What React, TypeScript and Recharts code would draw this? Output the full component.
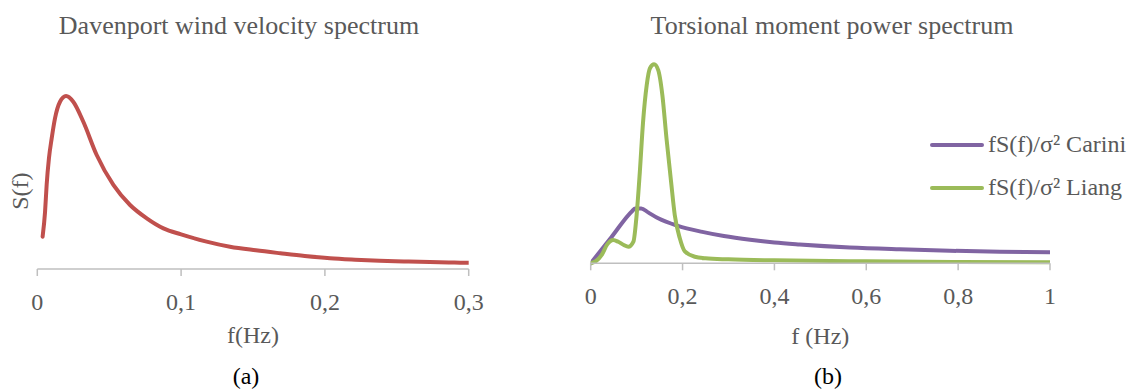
import React from 'react'
import { Label, Legend, Line, LineChart, XAxis, YAxis } from 'recharts'

const serif = "'Liberation Serif', 'Times New Roman', serif"
const grey = '#595959'
const axisGrey = '#bfbfbf'

// (a) Davenport spectrum, S(f) normalised so the peak is 1
const davenportF = [
  0.0037, 0.0054, 0.0065, 0.0081, 0.01, 0.0123, 0.0158, 0.02, 0.025, 0.032,
  0.0413, 0.0529, 0.0645, 0.0761, 0.0877, 0.1, 0.117, 0.134, 0.152, 0.169,
  0.186, 0.2035, 0.221, 0.238, 0.255, 0.273, 0.29, 0.3,
]
const davenportS = [
  0.187, 0.331, 0.486, 0.64, 0.755, 0.871, 0.967, 1.0, 0.967, 0.851,
  0.659, 0.486, 0.37, 0.293, 0.235, 0.2, 0.16, 0.129, 0.108, 0.091,
  0.075, 0.062, 0.054, 0.048, 0.044, 0.04, 0.037, 0.036,
]

// (b) torsional moment spectra, normalised to the Liang peak
const cariniF = [
  0, 0.045, 0.09, 0.097, 0.11, 0.125, 0.147, 0.19, 0.243, 0.29, 0.347, 0.4,
  0.455, 0.564, 0.673, 0.782, 0.891, 1,
]
const cariniS = [
  0, 0.131, 0.262, 0.276, 0.276, 0.256, 0.226, 0.188, 0.158, 0.137, 0.118,
  0.104, 0.094, 0.079, 0.07, 0.063, 0.058, 0.055,
]
const liangF = [
  0, 0.012, 0.024, 0.036, 0.049, 0.06, 0.072, 0.082, 0.093, 0.1, 0.107, 0.114,
  0.122, 0.129, 0.138, 0.147, 0.156, 0.165, 0.175, 0.183, 0.194, 0.205, 0.227,
  0.25, 0.3, 0.4, 0.6, 0.8, 1,
]
const liangS = [
  0, 0.012, 0.042, 0.095, 0.117, 0.108, 0.092, 0.083, 0.109, 0.243, 0.46, 0.71,
  0.896, 0.98, 1.0, 0.971, 0.846, 0.628, 0.41, 0.243, 0.126, 0.06, 0.033,
  0.025, 0.02, 0.015, 0.01, 0.007, 0.005,
]

const ticksA = [0, 0.1, 0.2, 0.3]
const ticksB = [0, 0.2, 0.4, 0.6, 0.8, 1]

const toRows = (xs: number[], ys: number[]) => xs.map((f, i) => ({ f, s: ys[i] }))
const comma = (v: number) => String(v).replace('.', ',')

const tickStyle = { fill: grey, fontSize: 24, fontFamily: serif }

function Caption({ text, cx, top, color, size }: { text: string; cx: number; top: number; color: string; size: number }) {
  return (
    <div
      style={{
        position: 'absolute',
        left: cx - 300,
        top,
        width: 600,
        textAlign: 'center',
        fontFamily: serif,
        fontSize: size,
        lineHeight: `${size}px`,
        color,
        whiteSpace: 'nowrap',
      }}
    >
      {text}
    </div>
  )
}

function LegendBox({ payload }: any) {
  return (
    <div>
      {(payload || []).map((p: any) => (
        <div key={p.value} style={{ display: 'flex', alignItems: 'center', height: 42.7 }}>
          <svg width={54} height={6}>
            <line x1={2} y1={3} x2={52} y2={3} stroke={p.color} strokeWidth={4} strokeLinecap='round' />
          </svg>
          <span style={{ marginLeft: 4, color: grey, fontSize: 24, fontFamily: serif, whiteSpace: 'nowrap' }}>
            {p.value}
          </span>
        </div>
      ))}
    </div>
  )
}

export default function App() {
  return (
    <div style={{ position: 'fixed', left: 0, top: 0, width: 1135, height: 392, background: '#fff' }}>
      <Caption text='Davenport wind velocity spectrum' cx={239} top={12.5} color={grey} size={26} />
      <Caption text='Torsional moment power spectrum' cx={832} top={12.5} color={grey} size={26} />
      <Caption text='(a)' cx={246} top={364} color='#000' size={24} />
      <Caption text='(b)' cx={828} top={364} color='#000' size={24} />

      <div style={{ position: 'absolute', left: 0, top: 0 }}>
        <LineChart width={560} height={392} margin={{ top: 61.4, right: 91.3, bottom: 33, left: 0 }}>
          <XAxis
            type='number'
            dataKey='f'
            domain={[0, 0.3]}
            ticks={ticksA}
            tickFormatter={comma}
            allowDataOverflow
            height={90}
            tickSize={7}
            tickMargin={17}
            tick={tickStyle}
            axisLine={{ stroke: axisGrey, strokeWidth: 1.5 }}
            tickLine={{ stroke: axisGrey, strokeWidth: 1.5 }}
          >
            <Label value='f(Hz)' position='insideBottom' offset={15.7} fill={grey} fontSize={24} fontFamily={serif} />
          </XAxis>
          <YAxis type='number' domain={[0, 1.2]} width={37.3} axisLine={false} tickLine={false} tick={false}>
            <Label value='S(f)' angle={-90} position='insideLeft' offset={19.5} dy={26} fill={grey} fontSize={24} fontFamily={serif} style={{ textAnchor: 'middle' }} />
          </YAxis>
          <Line
            data={toRows(davenportF, davenportS)}
            dataKey='s'
            type='monotone'
            stroke='#C0504D'
            strokeWidth={4}
            strokeLinecap='round'
            dot={false}
            activeDot={false}
            isAnimationActive={false}
          />
        </LineChart>
      </div>

      <div style={{ position: 'absolute', left: 560, top: 0 }}>
        <LineChart width={575} height={392} margin={{ top: 44.4, right: 85, bottom: 38.7, left: 30.7 }}>
          <XAxis
            type='number'
            dataKey='f'
            domain={[0, 1]}
            ticks={ticksB}
            tickFormatter={comma}
            allowDataOverflow
            height={90}
            tickSize={7}
            tickMargin={17}
            tick={tickStyle}
            axisLine={{ stroke: axisGrey, strokeWidth: 1.5 }}
            tickLine={{ stroke: axisGrey, strokeWidth: 1.5 }}
          >
            <Label value='f (Hz)' position='insideBottom' offset={9.3} fill={grey} fontSize={24} fontFamily={serif} />
          </XAxis>
          <YAxis type='number' domain={[0, 1.1]} hide />
          <Legend
            layout='vertical'
            align='center'
            verticalAlign='middle'
            content={LegendBox}
            wrapperStyle={{ left: 370, top: 123.6, width: 'auto' }}
          />
          <Line
            data={toRows(cariniF, cariniS)}
            dataKey='s'
            name='fS(f)/σ² Carini'
            type='monotone'
            stroke='#8064A2'
            strokeWidth={4}
            strokeLinecap='round'
            dot={false}
            activeDot={false}
            isAnimationActive={false}
          />
          <Line
            data={toRows(liangF, liangS)}
            dataKey='s'
            name='fS(f)/σ² Liang'
            type='monotone'
            stroke='#9BBB59'
            strokeWidth={4}
            strokeLinecap='round'
            dot={false}
            activeDot={false}
            isAnimationActive={false}
          />
        </LineChart>
      </div>
    </div>
  )
}
